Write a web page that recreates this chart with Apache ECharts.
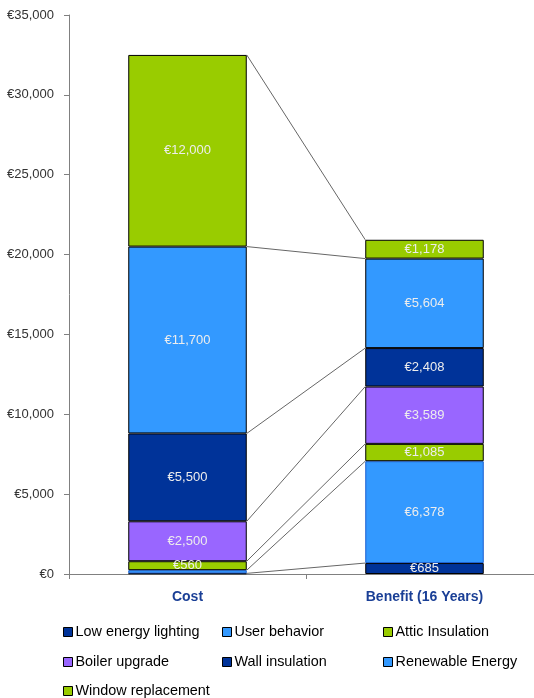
<!DOCTYPE html>
<html><head><meta charset="utf-8">
<script src="https://cdn.jsdelivr.net/npm/echarts@6/dist/echarts.min.js"></script>
<style>html,body{margin:0;padding:0;background:#fff;overflow:hidden}#c{width:545px;height:698px}</style>
</head><body><div id="c"></div>
<script>
const categories = ['Cost', 'Benefit (16 Years)'];
const seriesNames = ['Low energy lighting','User behavior','Attic Insulation','Boiler upgrade','Wall insulation','Renewable Energy','Window replacement'];
const costValues = [40, 200, 560, 2500, 5500, 11700, 12000];
const benefitValues = [685, 6378, 1085, 3589, 2408, 5604, 1178];
const colors = ['#003399','#3399FF','#99CC00','#9966FF','#003399','#3399FF','#99CC00'];
const borderColors = ['#000','#1a5fd0','#000','#000','#000','#000','#000'];
const yTicks = [0, 5000, 10000, 15000, 20000, 25000, 30000, 35000];

const fmt = v => '€' + Number(v).toLocaleString('en-US');
const FONT = '"Liberation Sans", Arial, sans-serif';

const barSeries = seriesNames.map((name, i) => ({
  name, type: 'bar', stack: 'total', barWidth: '50%',
  data: [costValues[i], benefitValues[i]],
  itemStyle: { color: colors[i], borderColor: borderColors[i], borderWidth: 1 },
  label: {
    show: true, position: 'inside', color: '#ededed', fontFamily: FONT, fontSize: 13,
    formatter: p => p.value >= 300 ? fmt(p.value) : ''
  },
  emphasis: { disabled: true }
}));

// cumulative boundaries for the connector lines
const connectorData = [];
let cc = 0, bc = 0;
for (let i = 0; i < seriesNames.length; i++) {
  cc += costValues[i]; bc += benefitValues[i];
  connectorData.push([0, cc, bc]);
}

const connector = {
  type: 'custom', name: 'connectors', z: 1, silent: true,
  encode: { x: 0, y: 1 },
  data: connectorData,
  renderItem: (params, api) => {
    const p1 = api.coord([0, api.value(1)]);
    const p2 = api.coord([1, api.value(2)]);
    const hw = api.size([1, 0])[0] * 0.25;
    return { type: 'line', shape: { x1: p1[0] + hw, y1: p1[1], x2: p2[0] - hw, y2: p2[1] },
      style: { stroke: '#666', lineWidth: 1 } };
  }
};

const legendPos = [[63,625],[222,625],[383,625],[63,655],[222,655],[383,655],[63,684]];
const legends = seriesNames.map((n, i) => ({
  data: [n], left: legendPos[i][0], top: legendPos[i][1], padding: 0,
  itemWidth: 9, itemHeight: 9, itemGap: 0, icon: 'rect', selectedMode: false,
  textStyle: { fontFamily: FONT, fontSize: 14.4, color: '#000', padding: [0,0,0,-2] },
  itemStyle: { borderColor: '#000', borderWidth: 1 }
}));

const chart = echarts.init(document.getElementById('c'), null, { renderer: 'canvas' });
chart.setOption({
  animation: false,
  grid: { left: 69, top: 15, right: 2, height: 559, containLabel: false },
  xAxis: {
    type: 'category', data: categories,
    axisLine: { lineStyle: { color: '#808080', width: 1 } },
    axisTick: { show: true, alignWithLabel: false, lineStyle: { color: '#808080' } },
    axisLabel: { color: '#1a3f96', fontWeight: 'bold', fontFamily: FONT, fontSize: 14, margin: 16 }
  },
  yAxis: {
    type: 'value', min: 0, max: 35000, interval: 5000,
    axisLine: { show: true, lineStyle: { color: '#808080' } },
    axisTick: { show: true, length: 5, lineStyle: { color: '#808080' } },
    splitLine: { show: false },
    axisLabel: { color: '#333', fontFamily: FONT, fontSize: 13, margin: 15, formatter: v => fmt(v) }
  },
  legend: legends,
  series: [connector, ...barSeries]
});
</script></body></html>
